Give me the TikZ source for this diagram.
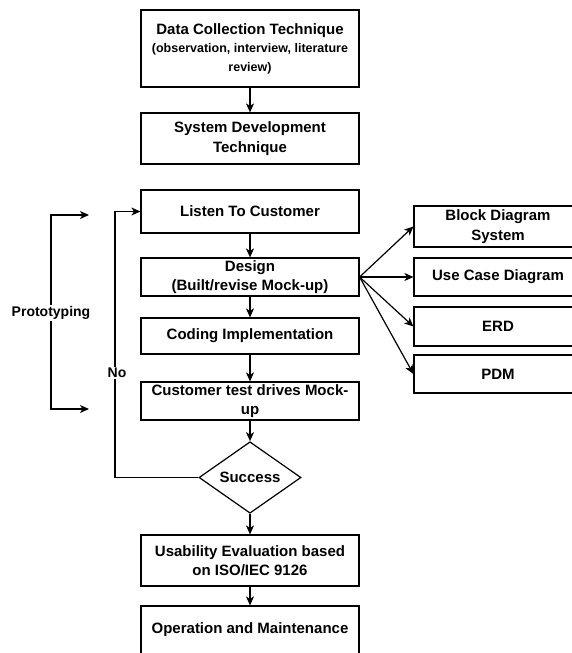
\documentclass[tikz,border=0pt]{standalone}
\usepackage{fontspec}
\setmainfont{Liberation Sans}
\usetikzlibrary{arrows.meta,shapes.geometric}

\tikzset{
  boxtext/.style={align=center, font=\fontsize{15}{19.5}\selectfont\bfseries},
  box/.style={boxtext, draw=black, line width=1.2pt, rectangle, inner sep=0pt},
  mainbox/.style={box, minimum width=218pt},
  sidebox/.style={box, minimum width=168pt},
  decision/.style={draw=black, line width=1.2pt, diamond, inner sep=0pt,
    minimum width=102pt, minimum height=63pt,
    font=\fontsize{15}{18}\selectfont\bfseries},
  arr/.style={draw=black, line width=1.2pt, -{Stealth[length=9pt,width=8pt,inset=2.5pt]}},
  biarr/.style={draw=black, line width=1.2pt,
    {Stealth[length=9pt,width=8pt,inset=2.5pt]}-{Stealth[length=9pt,width=8pt,inset=2.5pt]}},
  lbl/.style={fill=white, inner sep=1.5pt, font=\fontsize{14}{16}\selectfont\bfseries}
}

\begin{document}
\begin{tikzpicture}[x=1pt, y=-1pt]
  % canvas
  \path[use as bounding box, fill=white] (0,0) rectangle (572,653);
  \clip (0,0) rectangle (572,653);

  % main column
  \node[mainbox, minimum height=77pt] (collect) at (250,48.5)
    {Data Collection Technique\\[-1pt]
     {\fontsize{12.5}{19.5}\selectfont (observation, interview, literature}\\[-1pt]
     {\fontsize{12.5}{19.5}\selectfont review)}};
  \node[mainbox, minimum height=51pt] (sysdev) at (250,138.5)
    {System Development\\Technique};
  \node[mainbox, minimum height=43pt] (listen) at (250,211.5) {Listen To Customer};
  \node[mainbox, minimum height=38pt] (design) at (250,277)
    {Design\\(Built/revise Mock-up)};
  \node[mainbox, minimum height=36pt] (coding) at (250,336) {Coding Implementation};
  \node[mainbox, minimum height=38pt] (testdrive) at (250,401)
    {Customer test drives Mock-\\up};
  \node[decision] (success) at (250,477.5) {Success};
  \node[mainbox, minimum height=51pt] (usability) at (250,560.5)
    {Usability Evaluation based\\on ISO/IEC 9126};
  % last box runs past the lower edge of the page
  \node[mainbox, minimum height=64pt] (operation) at (250,638) {};
  \node[boxtext, inner sep=0pt] (opertext) at (250,630) {Operation and Maintenance};

  % design artefacts
  \node[sidebox, minimum height=41pt] (block) at (498,226.5)
    {Block Diagram\\System};
  \node[sidebox, minimum height=38pt] (usecase) at (498,277) {Use Case Diagram};
  \node[sidebox, minimum height=39pt] (erd) at (498,326.5) {ERD};
  \node[sidebox, minimum height=38pt] (pdm) at (498,374) {PDM};

  % flow
  \draw[arr] (collect) -- (sysdev);
  \draw[arr] (listen) -- (design);
  \draw[arr] (design) -- (coding);
  \draw[arr] (coding) -- (testdrive);
  \draw[arr] (testdrive) -- (success);
  \draw[arr] (success) -- (usability);
  \draw[arr] (usability) -- (operation.north);

  % fan-out from the design step
  \draw[arr] (design.east) -- (block.west);
  \draw[arr] (design.east) -- (usecase.west);
  \draw[arr] (design.east) -- (erd.west);
  \draw[arr] (design.east) -- (pdm.west);

  % loop back when the test fails
  \coordinate (nocorner) at (115,211.5);
  \draw[arr] (success.west) -| (nocorner) -- (listen.west);
  \node[lbl] (nolabel) at (117,373) {No};

  % prototyping bracket
  \coordinate (ptop) at (89,215);
  \coordinate (ptopcorner) at (51,215);
  \coordinate (pbotcorner) at (51,409);
  \coordinate (pbot) at (89,409);
  \draw[biarr] (ptop) -- (ptopcorner) -- (pbotcorner) -- (pbot);
  \node[lbl] (proto) at (51,313) {Prototyping};
\end{tikzpicture}
\end{document}
